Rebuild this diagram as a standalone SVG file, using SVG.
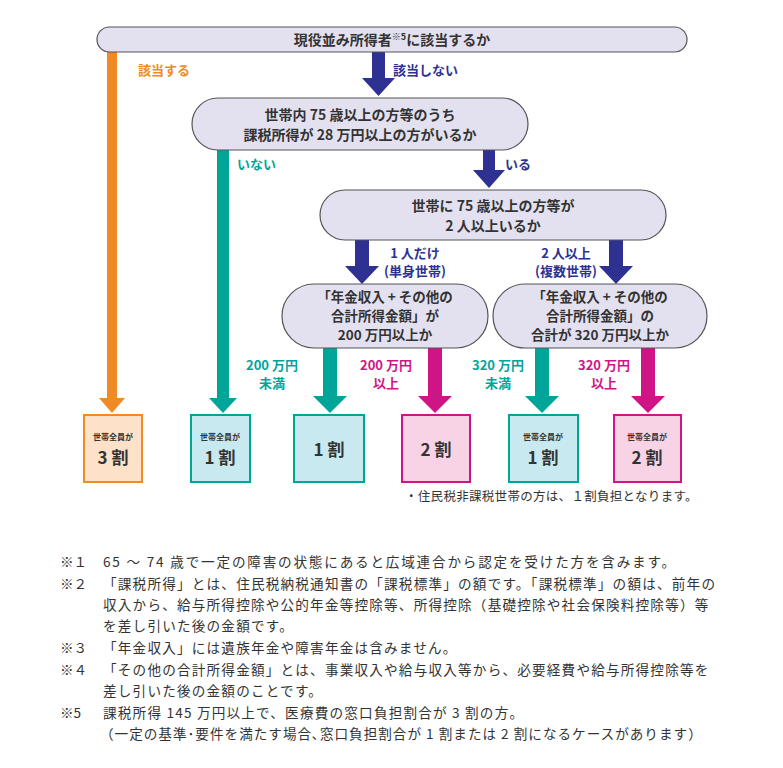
<svg xmlns="http://www.w3.org/2000/svg" width="783" height="768" viewBox="0 0 783 768">
<style>
text{font-family:"Noto Sans CJK JP",sans-serif;font-weight:bold;fill:#333}
.pill{fill:#e3e1f0;stroke:#555;stroke-width:1.2}
.q{font-size:14px;text-anchor:middle}
.q4{font-size:13.5px;text-anchor:middle}
.lb{font-size:13px;text-anchor:middle}
.fn{font-size:13.6px;font-weight:normal;letter-spacing:1.2px}
.s{font-size:8px;text-anchor:middle}
.b{font-size:17px;text-anchor:middle}
</style>
<rect width="783" height="768" fill="#fff"/>
<g id="connectors">
<path d="M107 52H117V398H125L112 413L99 398H107Z" fill="#f08a24"/>
<path d="M217 150H229V398H237L223 413L209 398H217Z" fill="#00a59a"/>
<path d="M372 52H385V78H395L378.5 96L362 78H372Z" fill="#2e3192"/>
<path d="M483 150H495V170H505L489 188L473 170H483Z" fill="#2e3192"/>
<path d="M355 240H369V266H379L362 284L345 266H355Z" fill="#2e3192"/>
<path d="M609 240H623V266H633L616 284L599 266H609Z" fill="#2e3192"/>
<path d="M323 348H337V396H347L330 413L313 396H323Z" fill="#00a59a"/>
<path d="M428 348H442V396H452L435 413L418 396H428Z" fill="#cf1585"/>
<path d="M535 348H549V396H559L542 413L525 396H535Z" fill="#00a59a"/>
<path d="M641 348H655V396H665L648 413L631 396H641Z" fill="#cf1585"/>
<text x="138" y="75" font-size="13" style="fill:#f08a24">該当する</text>
<text x="393" y="75" font-size="13" style="fill:#2e3192">該当しない</text>
<text x="237" y="169" font-size="13" style="fill:#00a59a">いない</text>
<text x="505" y="169" font-size="13" style="fill:#2e3192">いる</text>
<text x="415" y="258" class="lb" style="fill:#2e3192">1 人だけ</text>
<text x="415" y="276" class="lb" style="fill:#2e3192">(単身世帯)</text>
<text x="566" y="258" class="lb" style="fill:#2e3192">2 人以上</text>
<text x="566" y="276" class="lb" style="fill:#2e3192">(複数世帯)</text>
<text x="272" y="370" class="lb" style="fill:#00a59a">200 万円</text>
<text x="272" y="388" class="lb" style="fill:#00a59a">未満</text>
<text x="386" y="370" class="lb" style="fill:#cf1585">200 万円</text>
<text x="386" y="388" class="lb" style="fill:#cf1585">以上</text>
<text x="498" y="370" class="lb" style="fill:#00a59a">320 万円</text>
<text x="498" y="388" class="lb" style="fill:#00a59a">未満</text>
<text x="604" y="370" class="lb" style="fill:#cf1585">320 万円</text>
<text x="604" y="388" class="lb" style="fill:#cf1585">以上</text>
</g>
<g id="q1"><rect class="pill" x="97" y="27" width="590" height="25" rx="12.5"/><text x="392" y="45" class="q">現役並み所得者<tspan font-size="9" dy="-5">※5</tspan><tspan dy="5">に該当するか</tspan></text></g>
<g id="q2"><rect class="pill" x="192" y="98" width="336" height="52" rx="26"/><text x="360" y="120" class="q">世帯内 75 歳以上の方等のうち</text><text x="360" y="140" class="q">課税所得が 28 万円以上の方がいるか</text></g>
<g id="q3"><rect class="pill" x="320" y="190" width="346" height="50" rx="25"/><text x="493" y="211" class="q">世帯に 75 歳以上の方等が</text><text x="493" y="231" class="q">2 人以上いるか</text></g>
<g id="q4"><rect class="pill" x="282" y="284" width="206" height="64" rx="32"/><text x="385" y="302" class="q4">「年金収入 + その他の</text><text x="385" y="321" class="q4">合計所得金額」が</text><text x="385" y="340" class="q4">200 万円以上か</text></g>
<g id="q5"><rect class="pill" x="493" y="284" width="214" height="64" rx="32"/><text x="600" y="302" class="q4">「年金収入 + その他の</text><text x="600" y="321" class="q4">合計所得金額」の</text><text x="600" y="340" class="q4">合計が 320 万円以上か</text></g>
<g id="r1"><rect x="84" y="415" width="58" height="67" fill="#fde1c8" stroke="#f08a24" stroke-width="2"/><text x="113" y="440" class="s">世帯全員が</text><text x="113" y="464" class="b">3 割</text></g>
<g id="r2"><rect x="191" y="415" width="59" height="67" fill="#c8e9ef" stroke="#00a59a" stroke-width="2"/><text x="220" y="440" class="s">世帯全員が</text><text x="220" y="464" class="b">1 割</text></g>
<g id="r3"><rect x="294" y="415" width="70" height="67" fill="#c8e9ef" stroke="#00a59a" stroke-width="2"/><text x="329" y="456" class="b">1 割</text></g>
<g id="r4"><rect x="402" y="415" width="68" height="67" fill="#f8d3e6" stroke="#cf1585" stroke-width="2"/><text x="436" y="456" class="b">2 割</text></g>
<g id="r5"><rect x="509" y="415" width="69" height="67" fill="#c8e9ef" stroke="#00a59a" stroke-width="2"/><text x="543" y="440" class="s">世帯全員が</text><text x="543" y="464" class="b">1 割</text></g>
<g id="r6"><rect x="614" y="415" width="67" height="67" fill="#f8d3e6" stroke="#cf1585" stroke-width="2"/><text x="647" y="440" class="s">世帯全員が</text><text x="647" y="464" class="b">2 割</text></g>
<g id="notes">
<text x="405" y="501" class="fn" style="font-size:12.5px;letter-spacing:0.3px">・住民税非課税世帯の方は、１割負担となります。</text>
<text x="60" y="567" class="fn" style="letter-spacing:0">※１</text><text x="103" y="567" class="fn" style="letter-spacing:1.8px">65 ～ 74 歳で一定の障害の状態にあると広域連合から認定を受けた方を含みます。</text>
<text x="60" y="589" class="fn" style="letter-spacing:0">※２</text><text x="103" y="589" class="fn">「課税所得」とは、住民税納税通知書の「課税標準」の額です。「課税標準」の額は、前年の</text>
<text x="103" y="610" class="fn">収入から、給与所得控除や公的年金等控除等、所得控除（基礎控除や社会保険料控除等）等</text>
<text x="103" y="631" class="fn">を差し引いた後の金額です。</text>
<text x="60" y="653" class="fn" style="letter-spacing:0">※３</text><text x="103" y="653" class="fn">「年金収入」には遺族年金や障害年金は含みません。</text>
<text x="60" y="675" class="fn" style="letter-spacing:0">※４</text><text x="103" y="675" class="fn">「その他の合計所得金額」とは、事業収入や給与収入等から、必要経費や給与所得控除等を</text>
<text x="103" y="696" class="fn">差し引いた後の金額のことです。</text>
<text x="60" y="718" class="fn" style="letter-spacing:0">※5</text><text x="103" y="718" class="fn">課税所得 145 万円以上で、医療費の窓口負担割合が 3 割の方。</text>
<text x="100" y="739" class="fn" style="letter-spacing:1px">（一定の基準･要件を満たす場合､窓口負担割合が 1 割または 2 割になるケースがあります）</text>
</g>
</svg>
